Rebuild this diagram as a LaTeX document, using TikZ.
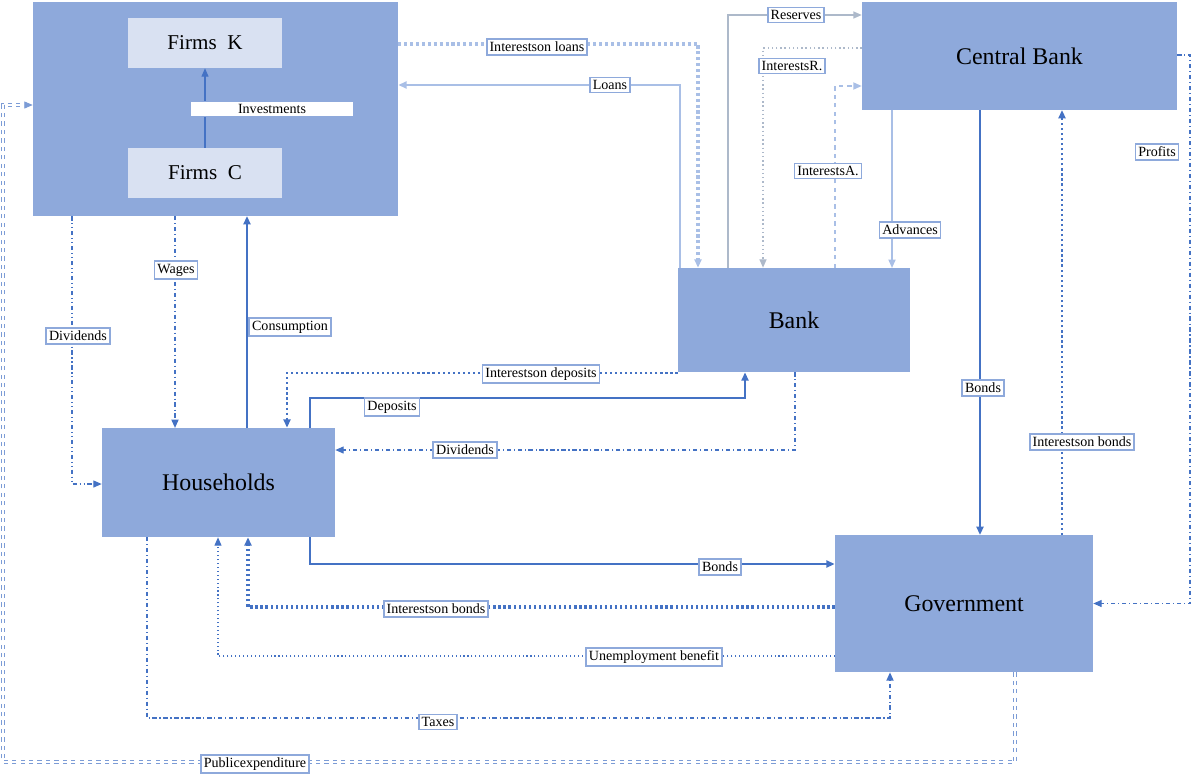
\documentclass[tikz,border=0pt]{standalone}
\usepackage{fontspec}
\setmainfont{Liberation Serif}
\usetikzlibrary{arrows.meta}
\definecolor{boxc}{HTML}{8EA9DB}
\definecolor{inner}{HTML}{D9E1F2}
\definecolor{dark}{HTML}{4472C4}
\definecolor{light}{HTML}{A9BFE6}
\definecolor{greyb}{HTML}{ADB9CA}
\begin{document}
\begin{tikzpicture}[x=0.025cm,y=-0.025cm,
 box/.style={fill=boxc,draw=none,inner sep=0,font=\fontsize{17}{20}\selectfont},
 ibox/.style={fill=inner,draw=none,inner sep=0,font=\fontsize{15}{18}\selectfont},
 lab/.style={fill=white,draw=boxc,line width=1.2pt,inner sep=2pt,font=\fontsize{10}{12}\selectfont},
 arr/.style={-{Triangle[length=6pt,width=5pt]}},
 dk/.style={draw=dark,line width=1.6pt},
 dkthin/.style={draw=dark,line width=0.8pt},
 lt/.style={draw=light,line width=1.2pt},
 gr/.style={draw=greyb,line width=1pt}]
\useasboundingbox (0,0) rectangle (1200,777);
% boxes
\node[box,minimum width=365*0.025cm,minimum height=214*0.025cm] (F) at (215.5,109) {};
\node[ibox,minimum width=154*0.025cm,minimum height=50*0.025cm] (FK) at (205,43) {Firms\ \ K};
\node[ibox,minimum width=154*0.025cm,minimum height=50*0.025cm] (FC) at (205,173) {Firms\ \ C};
\node[box,minimum width=315*0.025cm,minimum height=108*0.025cm] (CB) at (1019.5,56) {Central Bank};
\node[box,minimum width=232*0.025cm,minimum height=104*0.025cm] (B) at (794,320) {Bank};
\node[box,minimum width=233*0.025cm,minimum height=109*0.025cm] (H) at (218.5,482.5) {Households};
\node[box,minimum width=258*0.025cm,minimum height=137*0.025cm] (G) at (964,603.5) {Government};
% coordinates
\coordinate (c1) at (698,44); \coordinate (c2) at (680,85); \coordinate (c3) at (728,15);
\coordinate (c4) at (763,48); \coordinate (c5) at (835,86); \coordinate (c6) at (1190,55);
\coordinate (c7) at (72,484); \coordinate (c8) at (287,373); \coordinate (c9) at (745,398);
\coordinate (c10) at (795,450); \coordinate (c11) at (310,564); \coordinate (c12) at (248,607);
\coordinate (c13) at (218,656); \coordinate (c14) at (890,718); \coordinate (c15) at (1015,762);
\coordinate (c16) at (3,105);
% connectors
\draw[arr,lt,line width=2.2pt,dotted] (F.east|-c1) -- (c1) -- (c1|-B.north);
\draw[arr,lt,line width=1.8pt] (c2|-B.north) -- (c2) -- (F.east|-c2);
\draw[arr,gr] (c3|-B.north) -- (c3) -- (CB.west|-c3);
\draw[arr,gr,dotted] (CB.west|-c4) -- (c4) -- (c4|-B.north);
\draw[arr,lt,dashed] (c5|-B.north) -- (c5) -- (CB.west|-c5);
\draw[arr,lt] (892,110) -- (892,268);
\draw[arr,dk] (980,110) -- (980,535);
\draw[arr,dk,dotted,line width=2pt] (1062,535) -- (1062,110);
\draw[arr,dkthin,dash dot] (CB.east|-c6) -- (c6) -- (c6|-G.east) -- (G.east);
\draw[arr,dkthin,dash dot,line width=1.2pt] (175,216) -- (175,428);
\draw[arr,dkthin,dash dot dot] (c7|-F.south) -- (c7) -- (H.west|-c7);
\draw[arr,dk,line width=2pt] (247,428) -- (247,216);
\draw[arr,dk,dotted,line width=2pt] (B.west|-c8) -- (c8) -- (c8|-H.north);
\draw[arr,dk,line width=2pt] (c9-|310,0) ++(0,30) -- (310,398) -- (c9) -- (c9|-B.south);
\draw[arr,dkthin,dash dot] (c10|-B.south) -- (c10) -- (H.east|-c10);
\draw[arr,dk,line width=2pt] (c11|-H.south) -- (c11) -- (G.west|-c11);
\draw[arr,dk,dotted,line width=2.2pt] (G.west|-c12) -- (c12) -- (c12|-H.south);
\draw[arr,dkthin,dotted] (G.west|-c13) -- (c13) -- (c13|-H.south);
\draw[arr,dkthin,dash dot,line width=1.2pt] (147,537) -- (147,718) -- (c14) -- (c14|-G.south);
\draw[arr,draw=dark!70,double=white,double distance=1.5pt,line width=0.6pt,dashed] (c15|-G.south) -- (c15) -- (c15-|c16) -- (c16) -- (F.west|-c16);
\draw[arr,dkthin] (FC.north) -- (FK.south);
% labels
\node[lab] at (537,47) {Interestson loans};
\node[lab] at (610,85) {Loans};
\node[lab] at (796,15) {Reserves};
\node[lab] at (792,66) {InterestsR.};
\node[lab] at (828,171) {InterestsA.};
\node[lab] at (910,230) {Advances};
\node[lab] at (983,388) {Bonds};
\node[lab] at (1082,442) {Interestson bonds};
\node[lab] at (1157,152) {Profits};
\node[lab,minimum width=164*0.025cm] at (272,109) {Investments};
\node[lab] at (176,270) {Wages};
\node[lab] at (78,336) {Dividends};
\node[lab] at (290,327) {Consumption};
\node[lab] at (541,374) {Interestson deposits};
\node[lab] at (392,407) {Deposits};
\node[lab] at (465,450) {Dividends};
\node[lab] at (720,567) {Bonds};
\node[lab] at (436,609) {Interestson bonds};
\node[lab] at (654,657) {Unemployment benefit};
\node[lab] at (438,722) {Taxes};
\node[lab] at (255,764) {Publicexpenditure};
\end{tikzpicture}
\end{document}
